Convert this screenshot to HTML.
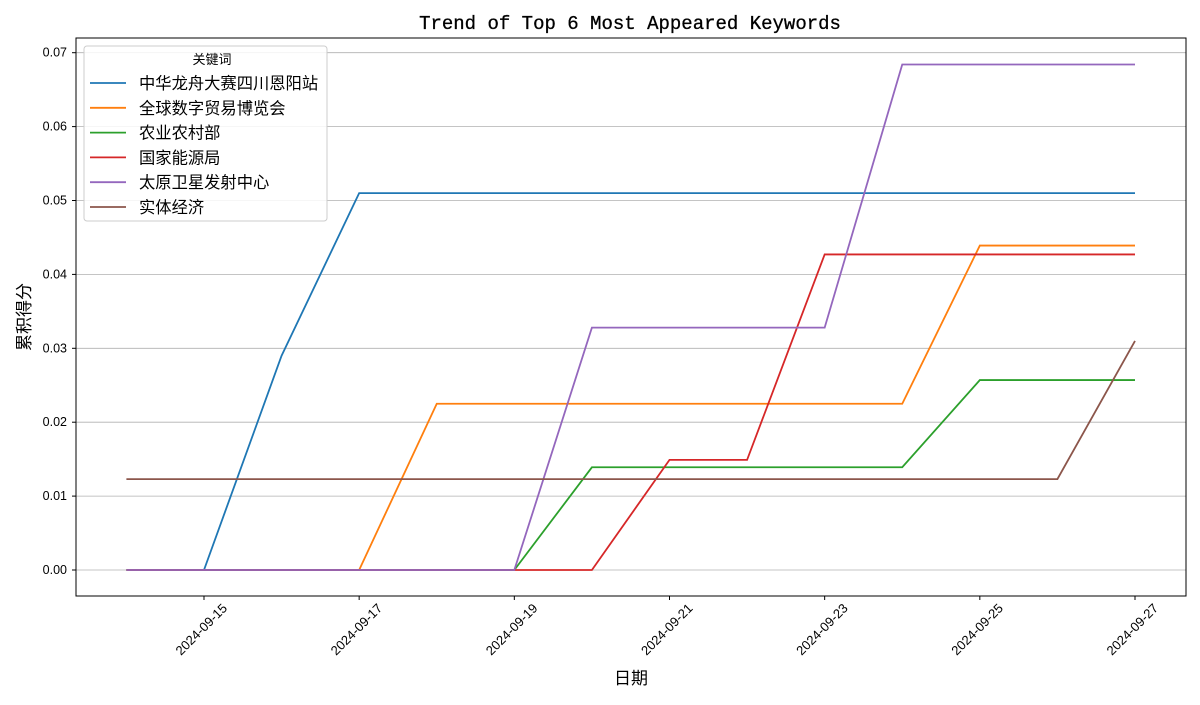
<!DOCTYPE html>
<html><head><meta charset="utf-8"><style>
body{margin:0;background:#fff}
text{font-family:"Liberation Sans","Noto Sans CJK SC",sans-serif}
.mono{font-family:"Liberation Mono","Noto Sans CJK SC",monospace}
.cjk{font-family:"Noto Sans CJK SC","WenQuanYi Zen Hei",sans-serif}
</style></head><body>
<svg id="chart" width="1200" height="700" xmlns="http://www.w3.org/2000/svg">
<rect width="1200" height="700" fill="#fff"/>
<text class="mono" x="630" y="29" font-size="19" text-anchor="middle" stroke="#000" stroke-width="0.3">Trend of Top 6 Most Appeared Keywords</text>
<g id="grid"></g><g id="series"></g><g id="axes"></g>
<rect x="76" y="38" width="1110" height="558" fill="none" stroke="#000" stroke-width="1"/>
<text class="cjk" x="631" y="684" font-size="17" text-anchor="middle">日期</text>
<text class="cjk" x="30" y="317" font-size="17" text-anchor="middle" transform="rotate(-90 30 317)">累积得分</text>
<g id="legend"></g>
</svg>
<script>
const dates=["2024-09-14","2024-09-15","2024-09-16","2024-09-17","2024-09-18","2024-09-19","2024-09-20","2024-09-21","2024-09-22","2024-09-23","2024-09-24","2024-09-25","2024-09-26","2024-09-27"];
const names=["中华龙舟大赛四川恩阳站","全球数字贸易博览会","农业农村部","国家能源局","太原卫星发射中心","实体经济"];
const colors=["#1f77b4","#ff7f0e","#2ca02c","#d62728","#9467bd","#8c564b"];
const s0=[0,0,0.029,0.051,0.051,0.051,0.051,0.051,0.051,0.051,0.051,0.051,0.051,0.051];
const s1=[0,0,0,0,0.0225,0.0225,0.0225,0.0225,0.0225,0.0225,0.0225,0.0439,0.0439,0.0439];
const s2=[0,0,0,0,0,0,0.0139,0.0139,0.0139,0.0139,0.0139,0.0257,0.0257,0.0257];
const s3=[0,0,0,0,0,0,0,0.0149,0.0149,0.0427,0.0427,0.0427,0.0427,0.0427];
const s4=[0,0,0,0,0,0,0.0328,0.0328,0.0328,0.0328,0.0684,0.0684,0.0684,0.0684];
const s5=[0.0123,0.0123,0.0123,0.0123,0.0123,0.0123,0.0123,0.0123,0.0123,0.0123,0.0123,0.0123,0.0123,0.031];
const series=[s0,s1,s2,s3,s4,s5];
const yTicks=[0,0.01,0.02,0.03,0.04,0.05,0.06,0.07];
const xTickIdx=[1,3,5,7,9,11,13];
const NS="http://www.w3.org/2000/svg";
const X=i=>126.4+i*(1135-126.4)/13;
const Y=v=>570-v*7390;
function mk(t,a,p){const e=document.createElementNS(NS,t);for(const k in a)e.setAttribute(k,a[k]);p.appendChild(e);return e;}
const grid=document.getElementById('grid'),axes=document.getElementById('axes'),sg=document.getElementById('series'),lg=document.getElementById('legend');
yTicks.forEach(v=>{
 const g=mk('line',{x1:76,x2:1186,y1:Y(v),y2:Y(v),stroke:'#b0b0b0','stroke-width':0.8},grid);
 
 mk('line',{x1:72,x2:76,y1:Y(v),y2:Y(v),stroke:'#000'},axes);
 const t=mk('text',{x:67,y:Y(v)+4,'font-size':12.5,'text-anchor':'end'},axes);t.textContent=v.toFixed(2);
 
});
xTickIdx.forEach(i=>{
 const x=X(i);mk('line',{x1:x,x2:x,y1:596,y2:600,stroke:'#000'},axes);
 const ax=x+24,ay=609;
 const t=mk('text',{x:ax,y:ay,'font-size':13,'text-anchor':'end',transform:`rotate(-45 ${ax} ${ay})`},axes);t.textContent=dates[i];
 
});
series.forEach((s,k)=>{
 const p=mk('polyline',{points:s.map((v,i)=>X(i)+','+Y(v)).join(' '),fill:'none',stroke:colors[k],'stroke-width':1.8},sg);
 
});
mk('rect',{x:84,y:46,width:243,height:175,rx:3,fill:'#fff','fill-opacity':0.85,stroke:'#ccc'},lg);
const lt=mk('text',{x:212,y:64,'font-size':13,'text-anchor':'middle',class:'cjk'},lg);lt.textContent='关键词';

names.forEach((n,k)=>{
 const y=83+k*24.8;
 const e=mk('g',{},lg);
 
 mk('line',{x1:90,x2:126,y1:y,y2:y,stroke:colors[k],'stroke-width':1.8},e);
 const t=mk('text',{x:139,y:y+6,'font-size':16.3,class:'cjk'},e);t.textContent=n;
});
</script>
</body></html>
